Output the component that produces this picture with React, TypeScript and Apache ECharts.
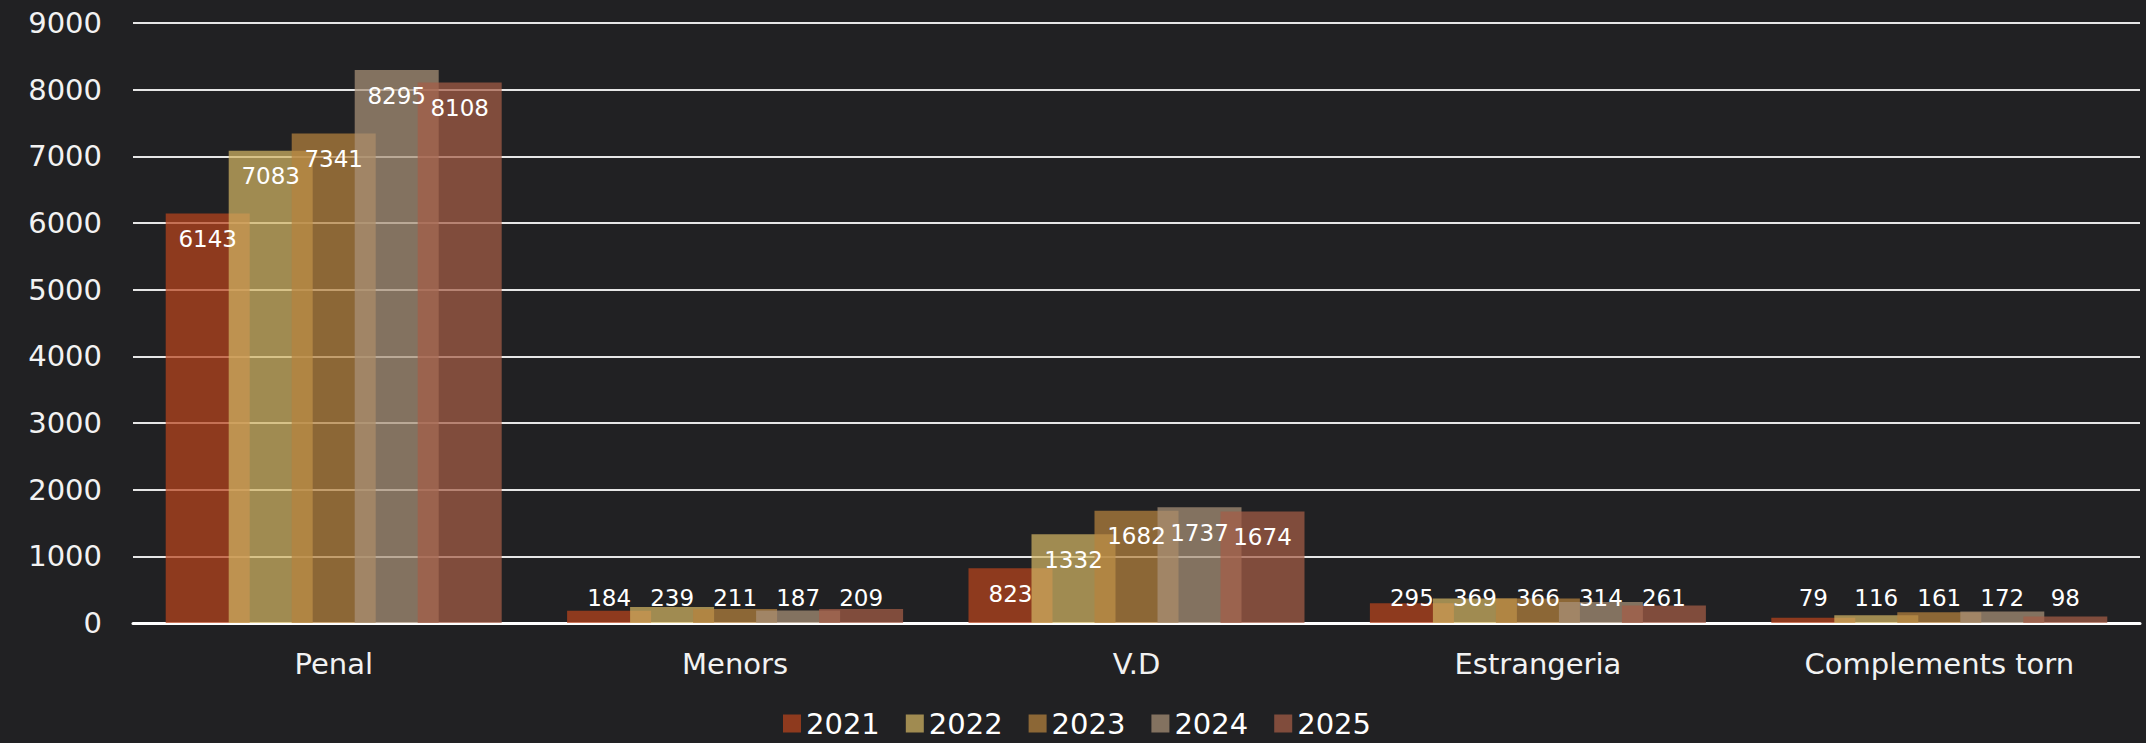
import React, { useEffect, useRef } from "react";
import * as echarts from "echarts";

const categories = ["Penal", "Menors", "V.D", "Estrangeria", "Complements torn"];
const years = ["2021", "2022", "2023", "2024", "2025"];
const values2021 = [6143, 184, 823, 295, 79];
const values2022 = [7083, 239, 1332, 369, 116];
const values2023 = [7341, 211, 1682, 366, 161];
const values2024 = [8295, 187, 1737, 314, 172];
const values2025 = [8108, 209, 1674, 261, 98];
const seriesValues = [values2021, values2022, values2023, values2024, values2025];
const colors = [
  "rgba(184,68,29,0.72)",
  "rgba(209,180,100,0.72)",
  "rgba(182,130,63,0.72)",
  "rgba(169,146,120,0.72)",
  "rgba(165,93,70,0.72)",
];
const yTicks = { min: 0, max: 9000, interval: 1000 };

const FONT = "DejaVu Sans";
const LABEL_SWITCH = 770;

export default function App() {
  const ref = useRef<HTMLDivElement>(null);
  useEffect(() => {
    if (!ref.current) return;
    const chart = echarts.init(ref.current, undefined, { renderer: "svg" });
    chart.setOption({
      animation: false,
      backgroundColor: "#212123",
      textStyle: { fontFamily: FONT },
      grid: { left: 133, right: 6, top: 23, bottom: 120, containLabel: false },
      legend: {
        data: years,
        left: 778,
        top: 704,
        itemWidth: 18,
        itemHeight: 18,
        itemGap: 26,
        icon: "rect",
        textStyle: { color: "#ffffff", fontSize: 29, fontFamily: FONT },
      },
      xAxis: {
        type: "category",
        data: categories,
        axisLine: { show: true, lineStyle: { color: "#ffffff", width: 3 } },
        axisTick: { show: false },
        axisLabel: { color: "#f2f2f2", fontSize: 29, margin: 26, fontFamily: FONT },
      },
      yAxis: {
        type: "value",
        min: yTicks.min,
        max: yTicks.max,
        interval: yTicks.interval,
        axisLine: { show: false },
        axisTick: { show: false },
        axisLabel: {
          color: "#f2f2f2",
          fontSize: 29,
          margin: 31,
          fontFamily: FONT,
          formatter: (v: number) => String(v),
        },
        splitLine: { lineStyle: { color: "#e6e6e6", width: 2 } },
      },
      series: years.map((y, i) => ({
        name: y,
        type: "bar",
        barWidth: 84,
        barGap: "-25%",
        itemStyle: { color: colors[i] },
        data: seriesValues[i].map((v) => ({
          value: v,
          label: {
            show: true,
            position: v >= LABEL_SWITCH ? "insideTop" : "insideBottom",
            distance: 14,
            color: "#ffffff",
            fontSize: 23,
            fontFamily: FONT,
          },
        })),
      })),
    });
    return () => chart.dispose();
  }, []);
  return (
    <div
      ref={ref}
      style={{ position: "fixed", left: 0, top: 0, width: 2146, height: 743 }}
    />
  );
}
